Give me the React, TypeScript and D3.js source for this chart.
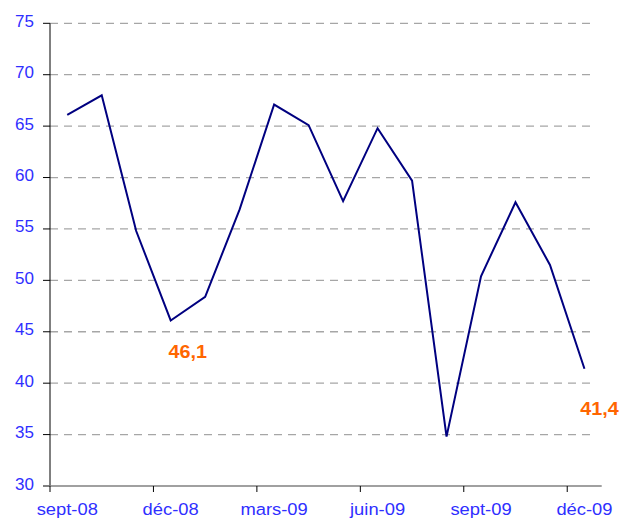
import React from "react";
import * as d3 from "d3";

const months = ["sept-08","oct-08","nov-08","déc-08","janv-09","févr-09","mars-09","avr-09","mai-09","juin-09","juil-09","août-09","sept-09","oct-09","nov-09","déc-09"];
const values = [66.1, 68.0, 54.8, 46.1, 48.4, 56.9, 67.1, 65.1, 57.7, 64.8, 59.7, 34.8, 50.4, 57.6, 51.5, 41.4];
const yTicks = [30, 35, 40, 45, 50, 55, 60, 65, 70, 75];
const labelIdx = [0, 3, 6, 9, 12, 15];
const annotated = [{ i: 3, text: "46,1", dx: 17, dy: 38 }, { i: 15, text: "41,4", dx: 15, dy: 46 }];

export default function App() {
  const W = 621, H = 521;
  const x = d3.scaleLinear().domain([0, 16]).range([50, 601.7]);
  const y = d3.scaleLinear().domain([30, 75]).range([486, 23.3]);
  const line = d3.line<number>().x((_, i) => x(i + 0.5)).y((d) => y(d));
  const blue = "#2f2fff";
  const font = "Arial, 'Liberation Sans', sans-serif";
  return (
    <svg width={W} height={H} style={{ position: "absolute", left: 0, top: 0, background: "#fff" }} fontFamily={font}>
      {yTicks.map((t) => (
        <g key={t}>
          {t > 30 && (
            <line x1={50} x2={596} y1={y(t)} y2={y(t)} stroke="#a6a6a6" strokeWidth={1.3} strokeDasharray="8,6" />
          )}
          <line x1={43} x2={50} y1={y(t)} y2={y(t)} stroke="#000" strokeWidth={1} />
          <text transform={`translate(${34},${y(t) + 3.5})`} textAnchor="end" fontSize={17} fill={blue}>
            {t}
          </text>
        </g>
      ))}
      <line x1={50} x2={50} y1={y(75)} y2={y(30)} stroke="#000" strokeWidth={1} />
      <line x1={45} x2={601.7} y1={y(30)} y2={y(30)} stroke="#808080" strokeWidth={1.5} />
      {labelIdx.map((i) => (
        <g key={i}>
          <line x1={x(i)} x2={x(i)} y1={y(30)} y2={y(30) + 6} stroke="#000" strokeWidth={1} />
          <text transform={`translate(${x(i + 0.5)},${515}) scale(1.08,1)`} textAnchor="middle" fontSize={17} fill={blue}>
            {months[i]}
          </text>
        </g>
      ))}
      <path d={line(values) || ""} fill="none" stroke="#000080" strokeWidth={2} strokeLinejoin="miter" />
      {annotated.map((a) => (
        <text
          key={a.i}
          transform={`translate(${x(a.i + 0.5) + a.dx},${y(values[a.i]) + a.dy}) scale(1.04,1)`}
          textAnchor="middle"
          fontSize={19}
          fontWeight="bold"
          fill="#ff6600"
        >
          {a.text}
        </text>
      ))}
    </svg>
  );
}
